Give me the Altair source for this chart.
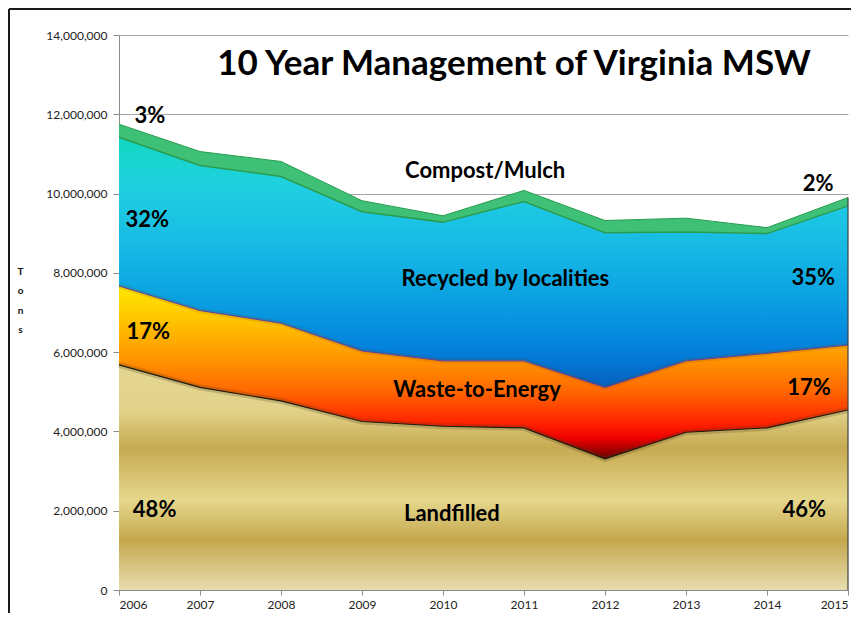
import altair as alt
import pandas as pd

years = [2006, 2007, 2008, 2009, 2010, 2011, 2012, 2013, 2014, 2015]
landfilled = [5680000, 5110000, 4770000, 4250000, 4130000, 4090000, 3310000, 3980000, 4090000, 4540000]
waste_to_energy = [1990000, 1940000, 1960000, 1780000, 1650000, 1690000, 1800000, 1800000, 1880000, 1640000]
recycled = [3750000, 3660000, 3700000, 3510000, 3500000, 4020000, 3900000, 3250000, 3020000, 3510000]
compost = [330000, 350000, 380000, 280000, 160000, 280000, 310000, 350000, 150000, 210000]

y_ticks = [0, 2000000, 4000000, 6000000, 8000000, 10000000, 12000000, 14000000]

label_text = ["3%", "Compost/Mulch", "2%", "32%", "Recycled by localities", "35%",
              "17%", "Waste-to-Energy", "17%", "48%", "Landfilled", "46%"]
label_year = [2006.38, 2010.52, 2014.63, 2006.35, 2010.77, 2014.57,
              2006.36, 2010.42, 2014.52, 2006.44, 2010.11, 2014.46]
label_tons = [11950000, 10560000, 10250000, 9340000, 7850000, 7870000,
              6510000, 5040000, 5090000, 2030000, 1920000, 2030000]

title_text = "10 Year Management of Virginia MSW"

df = pd.DataFrame({"year": years, "landfilled": landfilled, "wte": waste_to_energy,
                   "recycled": recycled, "compost": compost})
df["zero"] = 0
df["lf_top"] = df["landfilled"]
df["wte_top"] = df["lf_top"] + df["wte"]
df["rec_top"] = df["wte_top"] + df["recycled"]
df["comp_top"] = df["rec_top"] + df["compost"]

labels = pd.DataFrame({"t": label_text, "lx": label_year, "ly": label_tons})

FONT = "Lato"

xscale = alt.Scale(domain=[2006, 2015], nice=False, zero=False)
yscale = alt.Scale(domain=[0, 14000000], nice=False)

xaxis = alt.Axis(values=years, labelExpr="datum.value + ''", title=None, grid=False, labelFont=FONT,
                 labelFontSize=12, labelColor="#222", domainColor="#8c8c8c",
                 tickColor="#8c8c8c", tickSize=5, labelPadding=4)
yaxis = alt.Axis(values=y_ticks, labelExpr="format(datum.value, ',')",
                 title=["T", "o", "n", "s"], titleAngle=0,
                 titleFont=FONT, titleFontSize=10, titleFontWeight="bold",
                 titleLineHeight=19.5, titleX=-99, titleY=231, titleBaseline="top",
                 titleAlign="center", titleColor="#111",
                 grid=True, gridColor="#a6a6a6", gridWidth=1.2,
                 labelFont=FONT, labelFontSize=12, labelColor="#222",
                 domainColor="#8c8c8c", tickColor="#8c8c8c", tickSize=6, labelPadding=6)

base = alt.Chart(df)
X = alt.X("year:Q", scale=xscale, axis=xaxis)


def Y(field):
    return alt.Y(field, scale=yscale, axis=yaxis)


def grad(stops):
    return alt.Gradient(gradient="linear", x1=0, x2=0, y1=0, y2=1,
                        stops=[alt.GradientStop(color=c, offset=o) for o, c in stops])


landfill_area = base.mark_area(color=grad([
    (0.0, "#e4d592"), (0.2, "#e2d38a"), (0.37, "#c6aa52"), (0.6, "#e6d78c"),
    (0.78, "#c4a84e"), (1.0, "#e8ddb0")])).encode(
    x=X, y=Y("lf_top:Q"), y2="zero:Q")

wte_area = base.mark_area(color=grad([
    (0.0, "#ffe800"), (0.2, "#ffc400"), (0.4, "#ff9a00"), (0.6, "#ff6a00"),
    (0.8, "#ff2000"), (0.88, "#f00000"), (1.0, "#6a0000")])).encode(
    x=X, y=Y("wte_top:Q"), y2="lf_top:Q")

rec_area = base.mark_area(color=grad([
    (0.0, "#12d8bf"), (0.2, "#20d0e2"), (0.45, "#16b8e4"), (0.65, "#0aa0e2"),
    (0.85, "#0480dc"), (1.0, "#0560c0")])).encode(
    x=X, y=Y("rec_top:Q"), y2="wte_top:Q")

comp_area = base.mark_area(color="#3ec176").encode(
    x=X, y=Y("comp_top:Q"), y2="rec_top:Q")

lf_shadow = base.mark_line(color="#4a3a10", strokeWidth=6, opacity=0.22).encode(
    x=X, y=Y("lf_top:Q"))
lf_line = base.mark_line(color="#1a1a10", strokeWidth=1.2).encode(
    x=X, y=Y("lf_top:Q"))
wte_shadow = base.mark_line(color="#6a4000", strokeWidth=5, opacity=0.15).encode(
    x=X, y=Y("wte_top:Q"))
wte_line = base.mark_line(color="#6a3a90", strokeWidth=1).encode(
    x=X, y=Y("wte_top:Q"))
rec_line = base.mark_line(color="#2a9c50", strokeWidth=1.5).encode(
    x=X, y=Y("rec_top:Q"))
comp_line = base.mark_line(color="#2a9c50", strokeWidth=1).encode(
    x=X, y=Y("comp_top:Q"))

right_edge = base.transform_filter(alt.datum.year == 2015).mark_rule(
    color="#404040", strokeWidth=1.2).encode(
    x=X, y=Y("zero:Q"), y2="comp_top:Q")

text_layer = alt.Chart(labels).mark_text(font=FONT, fontSize=22, fontWeight="bold",
                                         color="#000", align="center", baseline="middle").encode(
    x=alt.X("lx:Q", scale=xscale, axis=xaxis), y=alt.Y("ly:Q", scale=yscale, axis=yaxis), text="t:N")

title_layer = alt.Chart(pd.DataFrame({"t": [title_text]})).mark_text(
    font=FONT, fontSize=35, fontWeight="bold", color="#000", align="center",
    baseline="alphabetic").encode(x=alt.value(395), y=alt.value(40), text="t:N")

frame_top = alt.Chart(pd.DataFrame({"a": [0]})).mark_rule(color="#1a1a1a", strokeWidth=2).encode(
    x=alt.value(-110), x2=alt.value(760), y=alt.value(-26))
frame_left = alt.Chart(pd.DataFrame({"a": [0]})).mark_rule(color="#1a1a1a", strokeWidth=2).encode(
    x=alt.value(-110), y=alt.value(-26), y2=alt.value(620))

chart = alt.layer(
    landfill_area, wte_area, rec_area, comp_area,
    lf_shadow, wte_shadow, lf_line, wte_line, rec_line, comp_line, right_edge,
    text_layer, title_layer, frame_top, frame_left
).properties(
    width=729, height=555,
    background="white",
    autosize=alt.AutoSizeParams(type="none"),
    padding={"left": 111, "top": 27, "right": 3, "bottom": 23},
).configure_view(stroke=None)

chart.save("out.html", embed_options={"renderer": "svg", "actions": False})
